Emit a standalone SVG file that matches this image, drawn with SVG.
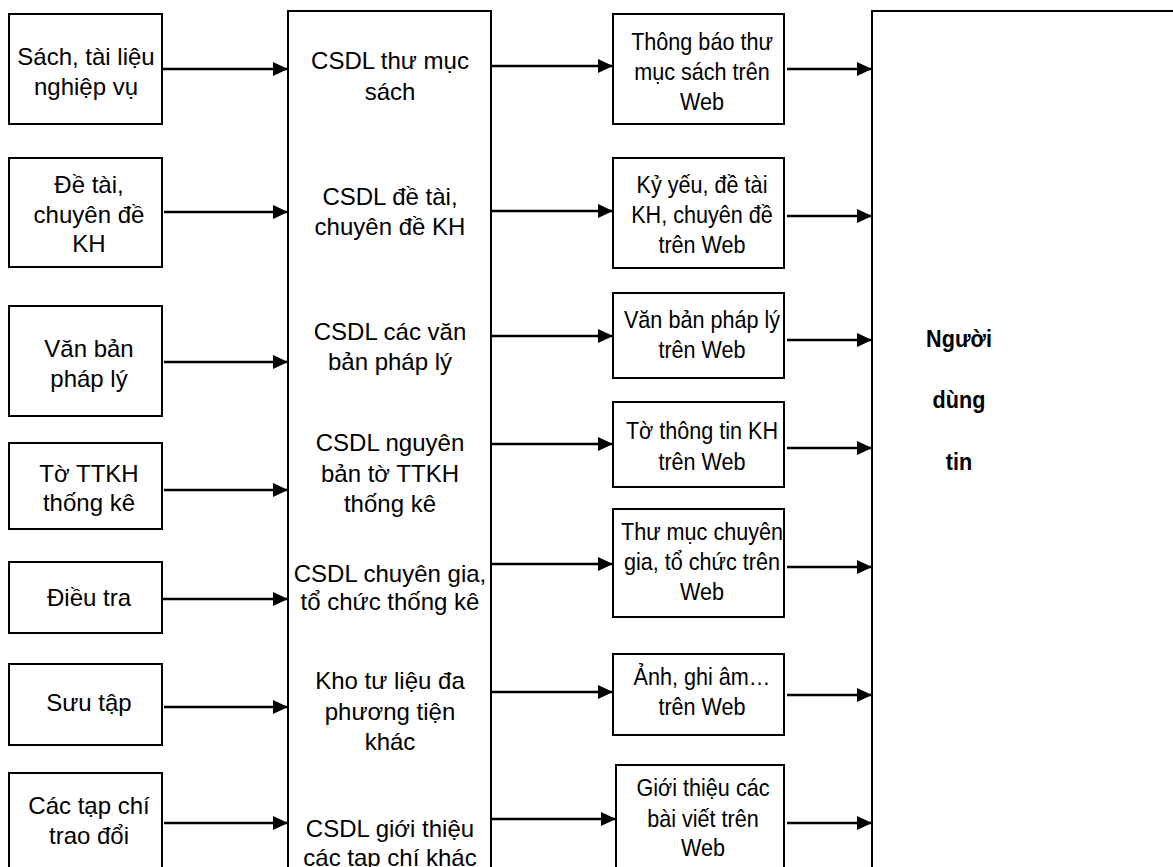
<svg xmlns="http://www.w3.org/2000/svg" width="1173" height="867" viewBox="0 0 1173 867">
<defs>
<style>
.box{fill:#fff;stroke:#000;stroke-width:2}
.t{font-family:"Liberation Sans",Arial,sans-serif;font-size:24px;fill:#000;text-anchor:middle}
.b{font-weight:bold}
.c{stroke:#000;stroke-width:2.5;fill:none;marker-end:url(#ah)}
</style>
<marker id="ah" markerUnits="userSpaceOnUse" markerWidth="16" markerHeight="15" refX="15" refY="7" orient="auto">
<path d="M0,0 L15,7 L0,14 z" fill="#000"/>
</marker>
</defs>
<rect width="1173" height="867" fill="#fff"/>

<g id="center">
<rect class="box" x="288" y="11" width="203" height="880"/>
<text class="t" x="390" y="69">CSDL thư mục</text>
<text class="t" x="390" y="100">sách</text>
<text class="t" x="390" y="205">CSDL đề tài,</text>
<text class="t" x="390" y="235">chuyên đề KH</text>
<text class="t" x="390" y="340">CSDL các văn</text>
<text class="t" x="390" y="370">bản pháp lý</text>
<text class="t" x="390" y="451">CSDL nguyên</text>
<text class="t" x="390" y="482">bản tờ TTKH</text>
<text class="t" x="390" y="512">thống kê</text>
<text class="t" x="390" y="582">CSDL chuyên gia,</text>
<text class="t" x="390" y="610">tổ chức thống kê</text>
<text class="t" x="390" y="689">Kho tư liệu đa</text>
<text class="t" x="390" y="720">phương tiện</text>
<text class="t" x="390" y="750">khác</text>
<text class="t" x="390" y="837">CSDL giới thiệu</text>
<text class="t" x="390" y="866">các tạp chí khác</text>
</g>

<g id="user">
<rect class="box" x="872" y="11" width="320" height="880"/>
<g transform="translate(959 0) scale(0.9 1)">
<text class="t b" x="0" y="347">Người</text>
<text class="t b" x="0" y="408">dùng</text>
<text class="t b" x="0" y="470">tin</text>
</g>
</g>

<g id="in1"><rect class="box" x="9" y="14" width="153" height="110"/>
<text class="t" x="86" y="65">Sách, tài liệu</text><text class="t" x="86" y="95">nghiệp vụ</text></g>
<g id="in2"><rect class="box" x="9" y="158" width="153" height="109"/>
<text class="t" x="89" y="193">Đề tài,</text><text class="t" x="89" y="223">chuyên đề</text><text class="t" x="89" y="252">KH</text></g>
<g id="in3"><rect class="box" x="9" y="306" width="153" height="110"/>
<text class="t" x="89" y="357">Văn bản</text><text class="t" x="89" y="387">pháp lý</text></g>
<g id="in4"><rect class="box" x="9" y="443" width="153" height="86"/>
<text class="t" x="89" y="482">Tờ TTKH</text><text class="t" x="89" y="511">thống kê</text></g>
<g id="in5"><rect class="box" x="9" y="562" width="153" height="71"/>
<text class="t" x="89" y="606">Điều tra</text></g>
<g id="in6"><rect class="box" x="9" y="664" width="153" height="81"/>
<text class="t" x="89" y="711">Sưu tập</text></g>
<g id="in7"><rect class="box" x="9" y="773" width="153" height="120"/>
<text class="t" x="89" y="814">Các tạp chí</text><text class="t" x="89" y="844">trao đổi</text></g>

<g id="out1"><rect class="box" x="613" y="14" width="171" height="110"/>
<g transform="translate(702 0) scale(0.9 1)"><text class="t" x="0" y="50">Thông báo thư</text><text class="t" x="0" y="80">mục sách trên</text><text class="t" x="0" y="110">Web</text></g></g>
<g id="out2"><rect class="box" x="613" y="158" width="171" height="110"/>
<g transform="translate(702 0) scale(0.9 1)"><text class="t" x="0" y="193">Kỷ yếu, đề tài</text><text class="t" x="0" y="223">KH, chuyên đề</text><text class="t" x="0" y="253">trên Web</text></g></g>
<g id="out3"><rect class="box" x="613" y="293" width="171" height="85"/>
<g transform="translate(702 0) scale(0.9 1)"><text class="t" x="0" y="328">Văn bản pháp lý</text><text class="t" x="0" y="358">trên Web</text></g></g>
<g id="out4"><rect class="box" x="613" y="402" width="171" height="85"/>
<g transform="translate(702 0) scale(0.9 1)"><text class="t" x="0" y="439">Tờ thông tin KH</text><text class="t" x="0" y="470">trên Web</text></g></g>
<g id="out5"><rect class="box" x="613" y="509" width="171" height="108"/>
<g transform="translate(702 0) scale(0.9 1)"><text class="t" x="0" y="540">Thư mục chuyên</text><text class="t" x="0" y="570">gia, tổ chức trên</text><text class="t" x="0" y="600">Web</text></g></g>
<g id="out6"><rect class="box" x="613" y="654" width="171" height="81"/>
<g transform="translate(702 0) scale(0.9 1)"><text class="t" x="0" y="685">Ảnh, ghi âm…</text><text class="t" x="0" y="715">trên Web</text></g></g>
<g id="out7"><rect class="box" x="616" y="765" width="168" height="130"/>
<g transform="translate(703 0) scale(0.9 1)"><text class="t" x="0" y="796">Giới thiệu các</text><text class="t" x="0" y="827">bài viết trên</text><text class="t" x="0" y="856">Web</text></g></g>

<g id="connectors">
<line class="c" x1="163" y1="69" x2="288" y2="69"/>
<line class="c" x1="164" y1="212" x2="288" y2="212"/>
<line class="c" x1="164" y1="362" x2="288" y2="362"/>
<line class="c" x1="164" y1="490" x2="288" y2="490"/>
<line class="c" x1="162" y1="599" x2="288" y2="599"/>
<line class="c" x1="164" y1="707" x2="288" y2="707"/>
<line class="c" x1="164" y1="823" x2="288" y2="823"/>
<line class="c" x1="492" y1="66" x2="613" y2="66"/>
<line class="c" x1="492" y1="211" x2="613" y2="211"/>
<line class="c" x1="492" y1="336" x2="613" y2="336"/>
<line class="c" x1="492" y1="444" x2="613" y2="444"/>
<line class="c" x1="492" y1="564" x2="613" y2="564"/>
<line class="c" x1="492" y1="692" x2="613" y2="692"/>
<line class="c" x1="492" y1="819" x2="616" y2="819"/>
<line class="c" x1="787" y1="69" x2="872" y2="69"/>
<line class="c" x1="787" y1="216" x2="872" y2="216"/>
<line class="c" x1="787" y1="340" x2="872" y2="340"/>
<line class="c" x1="787" y1="448" x2="872" y2="448"/>
<line class="c" x1="787" y1="567" x2="872" y2="567"/>
<line class="c" x1="787" y1="695" x2="872" y2="695"/>
<line class="c" x1="787" y1="823" x2="872" y2="823"/>
</g>
</svg>
